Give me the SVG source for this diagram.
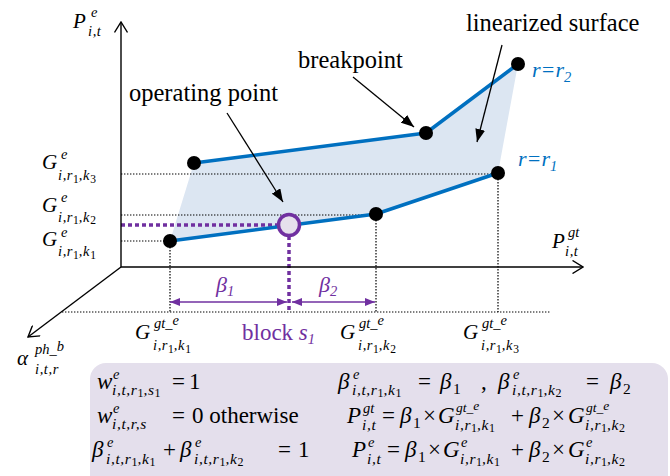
<svg xmlns="http://www.w3.org/2000/svg" width="670" height="476" viewBox="0 0 670 476" font-family="Liberation Serif, serif">
<style>
text{font-family:Liberation Serif, Times New Roman, serif}
.tx{fill:#000}
.it{font-style:italic}
.sp{font-size:14.5px}
.sb{font-size:14.5px;letter-spacing:0.6px}
.d{font-size:11.5px;font-style:normal}
.se{font-size:14.5px}
.sg{font-size:13.5px}
.sq{font-size:15.5px;letter-spacing:0.6px}
.dq{font-size:12px;font-style:normal}
.blue{fill:#0070c0}
.pur{fill:#7030a0}
.dot{stroke:#000;stroke-width:1.2;stroke-dasharray:1.4 1.6;fill:none}
.pdot{stroke:#7030a0;stroke-width:3.5;stroke-dasharray:4 3;fill:none}
.bl{stroke:#0070c0;stroke-width:3.5;fill:none;stroke-linejoin:round}
.ax{stroke:#000;stroke-width:1.4;fill:none}
.an{stroke:#000;stroke-width:1.3;fill:none}
.pa{stroke:#7030a0;stroke-width:1.5;fill:none}
.pt{fill:#000}
</style>
<defs>
<marker id="oa" viewBox="0 0 12 14" refX="11" refY="7" markerWidth="12" markerHeight="14" markerUnits="userSpaceOnUse" orient="auto"><path d="M0.5,0.5 L11,7 L0.5,13.5" fill="none" stroke="#000" stroke-width="1.4"/></marker>
<marker id="ah" viewBox="0 0 13 10" refX="13" refY="5" markerWidth="13" markerHeight="10" markerUnits="userSpaceOnUse" orient="auto"><path d="M0,0 L13,5 L0,10 z" fill="#000"/></marker>
<marker id="pah" viewBox="0 0 10 8" refX="10" refY="4" markerWidth="10" markerHeight="8" markerUnits="userSpaceOnUse" orient="auto-start-reverse"><path d="M0,0 L10,4 L0,8 z" fill="#7030a0"/></marker>
</defs>

<g id="surface">
<polygon points="170,241 194,163 426,133 518,64 498,173 376,214" fill="#dce6f2"/>
</g>

<g id="guides">
<line class="dot" x1="121" y1="174" x2="498" y2="174"/>
<line class="dot" x1="121" y1="215" x2="376" y2="215"/>
<line class="dot" x1="121" y1="241" x2="170" y2="241"/>
<line class="dot" x1="62" y1="312" x2="550" y2="312"/>
<line class="dot" x1="170" y1="241" x2="170" y2="312"/>
<line class="dot" x1="376" y1="214" x2="376" y2="312"/>
<line class="dot" x1="498" y1="173" x2="498" y2="312"/>
<line class="pdot" x1="121" y1="225" x2="278" y2="225"/>
<line class="pdot" x1="289" y1="236" x2="289" y2="313"/>
</g>

<g id="axes">
<line class="ax" x1="121" y1="267" x2="121" y2="22" marker-end="url(#oa)"/>
<line class="ax" x1="121" y1="267" x2="583" y2="267" marker-end="url(#oa)"/>
<line class="ax" x1="121" y1="267" x2="28" y2="337" marker-end="url(#oa)"/>
</g>

<g id="lines">
<polyline id="line-r1" class="bl" points="170,241 376,214 498,173"/>
<polyline id="line-r2" class="bl" points="194,163 426,133 518,64"/>
</g>

<g id="connectors">
<line class="an" x1="227" y1="113" x2="283" y2="202" marker-end="url(#ah)"/>
<line class="an" x1="353" y1="77" x2="414" y2="127" marker-end="url(#ah)"/>
<line class="an" x1="502" y1="45" x2="477" y2="142" marker-end="url(#ah)"/>
<line class="pa" x1="170" y1="302" x2="287" y2="302" marker-start="url(#pah)" marker-end="url(#pah)"/>
<line class="pa" x1="292" y1="302" x2="375" y2="302" marker-start="url(#pah)" marker-end="url(#pah)"/>
</g>

<g id="nodes">
<g id="pt-a1"><circle class="pt" cx="170" cy="241" r="7"/></g>
<g id="pt-b1"><circle class="pt" cx="376" cy="214" r="7"/></g>
<g id="pt-c1"><circle class="pt" cx="498" cy="173" r="7"/></g>
<g id="pt-a2"><circle class="pt" cx="194" cy="163" r="7"/></g>
<g id="pt-b2"><circle class="pt" cx="426" cy="133" r="7"/></g>
<g id="pt-c2"><circle class="pt" cx="518" cy="64" r="7"/></g>
<g id="operating-point"><circle cx="289" cy="225" r="10.5" fill="#e6e0ec" stroke="#7030a0" stroke-width="3.5"/></g>
</g>

<g id="labels">
<text class="tx" font-size="24.5" x="129" y="101">operating point</text>
<text class="tx" font-size="24.5" x="298" y="68">breakpoint</text>
<text class="tx" font-size="24.5" x="466" y="31">linearized surface</text>
<text class="tx it blue" font-size="22" x="532" y="77">r=r<tspan class="sp" dy="5">2</tspan></text>
<text class="tx it blue" font-size="22" x="518" y="166">r=r<tspan class="sp" dy="5">1</tspan></text>

<text class="tx it" font-size="21"><tspan x="73" y="28">P</tspan><tspan class="sp" x="91" y="17">e</tspan><tspan class="sb" x="88" y="36">i,t</tspan></text>
<text class="tx it" font-size="21"><tspan x="552" y="248">P</tspan><tspan class="sp" x="568" y="237">gt</tspan><tspan class="sb" x="565" y="256">i,t</tspan></text>
<text class="tx it" font-size="21"><tspan x="17" y="365">α</tspan><tspan class="sp" x="35" y="354">ph</tspan><tspan class="sp">_</tspan><tspan class="sp" dy="-3">b</tspan><tspan class="sb" x="35" y="374">i,t,r</tspan></text>

<text class="tx it" font-size="21"><tspan x="42" y="169">G</tspan><tspan class="sp" x="61" y="159">e</tspan><tspan class="sb" x="58" y="180">i,r</tspan><tspan class="d" dy="3">1</tspan><tspan class="sb" dy="-3">,k</tspan><tspan class="d" dy="3">3</tspan></text>
<text class="tx it" font-size="21"><tspan x="42" y="212">G</tspan><tspan class="sp" x="61" y="202">e</tspan><tspan class="sb" x="58" y="222">i,r</tspan><tspan class="d" dy="2">1</tspan><tspan class="sb" dy="-2">,k</tspan><tspan class="d" dy="2">2</tspan></text>
<text class="tx it" font-size="21"><tspan x="42" y="246">G</tspan><tspan class="sp" x="61" y="237">e</tspan><tspan class="sb" x="58" y="256">i,r</tspan><tspan class="d" dy="3">1</tspan><tspan class="sb" dy="-3">,k</tspan><tspan class="d" dy="3">1</tspan></text>

<text class="tx it" font-size="21"><tspan x="135" y="339">G</tspan><tspan class="sp" x="154" y="328">gt</tspan><tspan class="sp">_</tspan><tspan class="sp" dy="-3">e</tspan><tspan class="sb" x="153" y="350">i,r</tspan><tspan class="d" dy="3">1</tspan><tspan class="sb" dy="-3">,k</tspan><tspan class="d" dy="3">1</tspan></text>
<text class="tx it" font-size="21"><tspan x="340" y="339">G</tspan><tspan class="sp" x="359" y="328">gt</tspan><tspan class="sp">_</tspan><tspan class="sp" dy="-3">e</tspan><tspan class="sb" x="358" y="350">i,r</tspan><tspan class="d" dy="3">1</tspan><tspan class="sb" dy="-3">,k</tspan><tspan class="d" dy="3">2</tspan></text>
<text class="tx it" font-size="21"><tspan x="463" y="339">G</tspan><tspan class="sp" x="482" y="328">gt</tspan><tspan class="sp">_</tspan><tspan class="sp" dy="-3">e</tspan><tspan class="sb" x="481" y="350">i,r</tspan><tspan class="d" dy="3">1</tspan><tspan class="sb" dy="-3">,k</tspan><tspan class="d" dy="3">3</tspan></text>

<text class="tx it pur" font-size="22" x="216" y="292">β<tspan class="sp" dy="4">1</tspan></text>
<text class="tx it pur" font-size="22" x="319" y="292">β<tspan class="sp" dy="4">2</tspan></text>
<text class="tx pur" font-size="23" x="242" y="340">block <tspan class="it">s</tspan><tspan class="it sp" dy="4">1</tspan></text>
</g>

<g id="equations">
<rect x="90" y="363" width="578" height="130" rx="16" fill="#e4dfec"/>
<text class="tx" font-size="23"><tspan class="it" x="97" y="389">w</tspan><tspan class="it se" x="113" y="379">e</tspan><tspan class="it sq" x="112" y="395">i,t,r</tspan><tspan class="dq" dy="2">1</tspan><tspan class="it sq" dy="-2">,s</tspan><tspan class="dq" dy="2">1</tspan><tspan x="172" y="389">=</tspan><tspan x="189" y="389">1</tspan></text>
<text class="tx" font-size="23"><tspan class="it" x="97" y="423">w</tspan><tspan class="it se" x="113" y="413">e</tspan><tspan class="it sq" x="112" y="429">i,t,r,s</tspan><tspan x="172" y="423">=</tspan><tspan x="192" y="423">0 otherwise</tspan></text>
<text class="tx" font-size="23"><tspan class="it" x="92" y="457">β</tspan><tspan class="it se" x="107" y="447">e</tspan><tspan class="it sq" x="106" y="464">i,t,r</tspan><tspan class="dq" dy="2">1</tspan><tspan class="it sq" dy="-2">,k</tspan><tspan class="dq" dy="2">1</tspan><tspan x="163" y="457">+</tspan><tspan class="it" x="180" y="457">β</tspan><tspan class="it se" x="195" y="447">e</tspan><tspan class="it sq" x="194" y="464">i,t,r</tspan><tspan class="dq" dy="2">1</tspan><tspan class="it sq" dy="-2">,k</tspan><tspan class="dq" dy="2">2</tspan><tspan x="278" y="457">=</tspan><tspan x="298" y="457">1</tspan></text>

<text class="tx" font-size="23"><tspan class="it" x="338" y="389">β</tspan><tspan class="it se" x="353" y="379">e</tspan><tspan class="it sq" x="352" y="395">i,t,r</tspan><tspan class="dq" dy="2">1</tspan><tspan class="it sq" dy="-2">,k</tspan><tspan class="dq" dy="2">1</tspan><tspan x="418" y="389">=</tspan><tspan class="it" x="440" y="389">β</tspan><tspan class="sq" x="453" y="394">1</tspan><tspan x="481" y="389">,</tspan><tspan class="it" x="498" y="389">β</tspan><tspan class="it se" x="513" y="379">e</tspan><tspan class="it sq" x="512" y="395">i,t,r</tspan><tspan class="dq" dy="2">1</tspan><tspan class="it sq" dy="-2">,k</tspan><tspan class="dq" dy="2">2</tspan><tspan x="586" y="389">=</tspan><tspan class="it" x="610" y="389">β</tspan><tspan class="sq" x="623" y="394">2</tspan></text>

<text class="tx" font-size="23"><tspan class="it" x="347" y="423">P</tspan><tspan class="it se" x="363" y="413">gt</tspan><tspan class="it sq" x="362" y="430">i,t</tspan><tspan x="382" y="423">=</tspan><tspan class="it" x="400" y="423">β</tspan><tspan class="sq" x="413" y="428">1</tspan><tspan x="423" y="423">×</tspan><tspan class="it" x="438" y="423">G</tspan><tspan class="it sg" x="456" y="412">gt</tspan><tspan class="it sg">_</tspan><tspan class="it sg" dy="-2">e</tspan><tspan class="it sq" x="455" y="429.5">i,r</tspan><tspan class="dq" dy="2">1</tspan><tspan class="it sq" dy="-2">,k</tspan><tspan class="dq" dy="2">1</tspan><tspan x="511" y="423">+</tspan><tspan class="it" x="529" y="423">β</tspan><tspan class="sq" x="542" y="428">2</tspan><tspan x="552" y="423">×</tspan><tspan class="it" x="568" y="423">G</tspan><tspan class="it sg" x="586" y="412">gt</tspan><tspan class="it sg">_</tspan><tspan class="it sg" dy="-2">e</tspan><tspan class="it sq" x="585" y="429.5">i,r</tspan><tspan class="dq" dy="2">1</tspan><tspan class="it sq" dy="-2">,k</tspan><tspan class="dq" dy="2">2</tspan></text>

<text class="tx" font-size="23"><tspan class="it" x="352" y="457">P</tspan><tspan class="it se" x="368" y="447">e</tspan><tspan class="it sq" x="367" y="464">i,t</tspan><tspan x="387" y="457">=</tspan><tspan class="it" x="405" y="457">β</tspan><tspan class="sq" x="418" y="462">1</tspan><tspan x="428" y="457">×</tspan><tspan class="it" x="443" y="457">G</tspan><tspan class="it se" x="461" y="447">e</tspan><tspan class="it sq" x="460" y="464">i,r</tspan><tspan class="dq" dy="2">1</tspan><tspan class="it sq" dy="-2">,k</tspan><tspan class="dq" dy="2">1</tspan><tspan x="511" y="457">+</tspan><tspan class="it" x="529" y="457">β</tspan><tspan class="sq" x="542" y="462">2</tspan><tspan x="552" y="457">×</tspan><tspan class="it" x="568" y="457">G</tspan><tspan class="it se" x="586" y="447">e</tspan><tspan class="it sq" x="585" y="464">i,r</tspan><tspan class="dq" dy="2">1</tspan><tspan class="it sq" dy="-2">,k</tspan><tspan class="dq" dy="2">2</tspan></text>
</g>
</svg>
